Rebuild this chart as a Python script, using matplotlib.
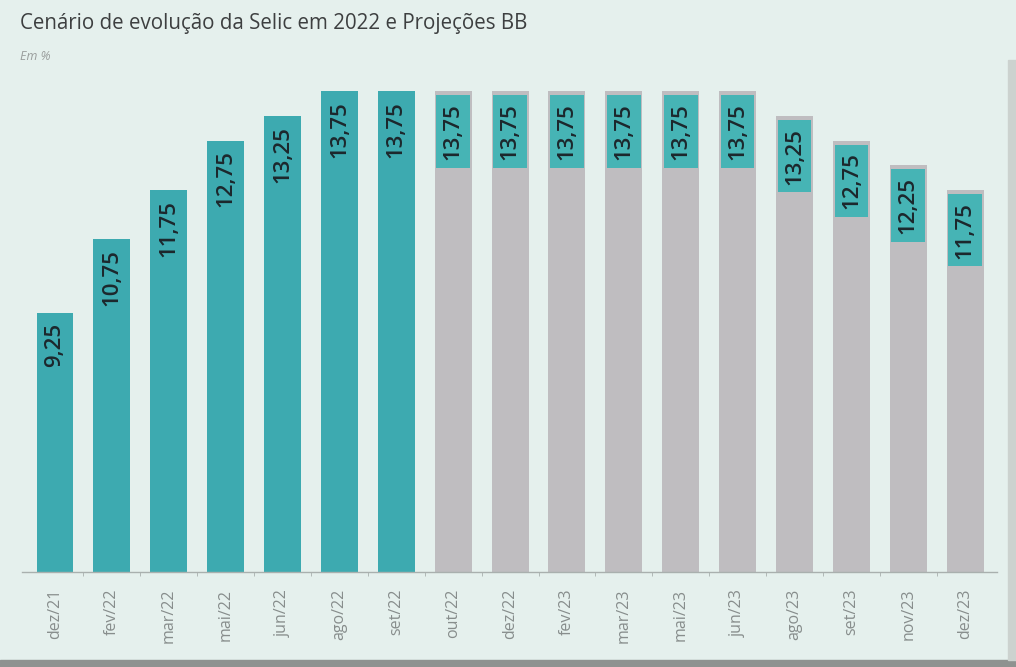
import numpy as np
import matplotlib.pyplot as plt
from matplotlib.patches import Rectangle

meses = ["dez/21", "fev/22", "mar/22", "mai/22", "jun/22", "ago/22", "set/22",
         "out/22", "dez/22", "fev/23", "mar/23", "mai/23", "jun/23", "ago/23",
         "set/23", "nov/23", "dez/23"]
selic = [9.25, 10.75, 11.75, 12.75, 13.25, 13.75, 13.75,
         13.75, 13.75, 13.75, 13.75, 13.75, 13.75, 13.25, 12.75, 12.25, 11.75]
n_real = 7  # ate set/22 realizado, depois projecao

bg = "#e5f0ed"
teal = "#3daab0"
teal_box = "#46b4b5"
cinza = "#bfbdc0"
texto = "#1c272c"

plt.rcParams['font.family'] = ['Open Sans', 'DejaVu Sans']

fig = plt.figure(figsize=(10.16, 6.67), dpi=100)
fig.patch.set_facecolor(bg)
ax = fig.add_axes([22 / 1016, 1 - 572 / 667, (997 - 22) / 1016, (572 - 79) / 667])
ax.set_facecolor(bg)

x = np.arange(len(selic))
w = 0.65
base = 4.0
cores = [teal if i < n_real else cinza for i in x]
ax.bar(x, np.array(selic) - base, bottom=base, width=w, color=cores, zorder=2)

# caixas de rotulo nas projecoes
box_h = 1.47
for i in x[n_real:]:
    v = selic[i]
    ax.bar(i, box_h, bottom=v - 0.08 - box_h, width=w - 0.06, color=teal_box, zorder=3)

for i, v in enumerate(selic):
    lab = f"{v:.2f}".replace(".", ",")
    if i < n_real:
        ax.text(i, v - 0.2, lab, rotation=90, ha="center", va="top",
                fontsize=16, fontweight="semibold", color=texto, zorder=4)
    else:
        ax.text(i, v - 0.08 - box_h / 2, lab, rotation=90, ha="center", va="center",
                fontsize=16, fontweight="semibold", color=texto, zorder=4)

ax.set_xlim(-0.58, 16.56)
ax.set_ylim(base, 14.0)
ax.set_yticks([])
for s in ["top", "right", "left"]:
    ax.spines[s].set_visible(False)
ax.spines["bottom"].set_color("#a9b0ae")
ax.spines["bottom"].set_linewidth(1.0)

ax.set_xticks(x)
ax.set_xticklabels(meses, rotation=90, fontsize=11.5, color="#878d8c")
ax.tick_params(axis="x", which="major", length=0, pad=12)
ax.set_xticks(x[:-1] + 0.5, minor=True)
ax.tick_params(axis="x", which="minor", length=3, color="#a9b0ae")

fig.text(20 / 1016, 1 - 24 / 667, "Cenário de evolução da Selic em 2022 e Projeções BB",
         fontsize=14.8, color="#3d3f40", va="center", ha="left")
fig.text(20 / 1016, 1 - 57 / 667, "Em %", fontsize=9, style="italic",
         color="#9a9e9d", va="center", ha="left")

# bordas do recorte
fig.patches.append(Rectangle((0, 0), 1, 7 / 667, transform=fig.transFigure,
                             color="#8e9290", zorder=0))
fig.patches.append(Rectangle((1008 / 1016, 7 / 667), 8 / 1016, 0.9, transform=fig.transFigure,
                             color="#ccd2cf", zorder=0))

fig.savefig("out.png", dpi=100, facecolor=bg)
